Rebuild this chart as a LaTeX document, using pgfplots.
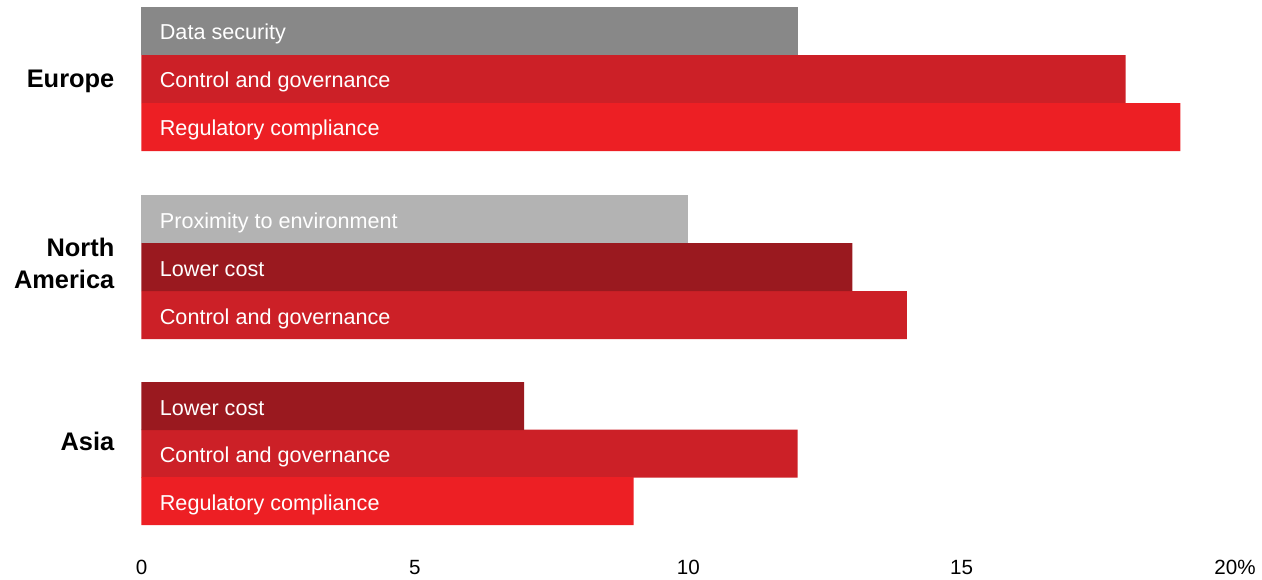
\documentclass[border=0pt]{standalone}
\usepackage{fontspec}
\setmainfont{Liberation Sans}
\usepackage{pgfplots}
\pgfplotsset{compat=1.18}
\definecolor{cgray}{RGB}{136,136,136}
\definecolor{cprox}{RGB}{179,179,179}
\definecolor{cctrl}{RGB}{204,32,39}
\definecolor{creg}{RGB}{237,31,36}
\definecolor{clow}{RGB}{154,25,31}
\pgfplotsset{hb/.style={xbar, bar width=48, bar shift=0pt, draw=none, fill=#1}}
\tikzset{lbl/.style={anchor=base west, inner sep=0pt, xshift=9pt, yshift=-4.4pt, text=white, font=\fontsize{10.8}{13}\selectfont}}
\begin{document}
\begin{tikzpicture}
\begin{axis}[
  scale only axis, width=546.75pt, height=289.5pt,
  xmin=0, xmax=20, ymin=0, ymax=579,
  axis line style={draw=none}, major tick length=0pt,
  xtick={0,5,10,15,20}, xticklabels={0,5,10,15,20\%},
  xticklabel style={font=\fontsize{10.3}{12}\selectfont, anchor=center, inner sep=0pt, yshift=6pt},
  ytick={138,315.5,498}, yticklabels={Asia,{North\\America},Europe},
  yticklabel style={font=\fontsize{12.7}{16}\selectfont\bfseries, align=right, anchor=east, inner sep=0pt, xshift=-13.4pt},
  /pgf/number format/assume math mode=true,
  clip=false,
]
\addplot[hb=cgray] coordinates {(12,548)};
\addplot[hb=cctrl] coordinates {(18,500) (14,264) (12,125.5)};
\addplot[hb=creg] coordinates {(19,452) (9,78)};
\addplot[hb=cprox] coordinates {(10,360)};
\addplot[hb=clow] coordinates {(13,312) (7,173)};
\node[lbl] at (axis cs:0,548) {Data security};
\node[lbl] at (axis cs:0,500) {Control and governance};
\node[lbl] at (axis cs:0,452) {Regulatory compliance};
\node[lbl] at (axis cs:0,360) {Proximity to environment};
\node[lbl] at (axis cs:0,312) {Lower cost};
\node[lbl] at (axis cs:0,264) {Control and governance};
\node[lbl] at (axis cs:0,173) {Lower cost};
\node[lbl] at (axis cs:0,125.5) {Control and governance};
\node[lbl] at (axis cs:0,78) {Regulatory compliance};
\end{axis}
\path ([xshift=-70.75pt]current axis.south west) rectangle ([xshift=13.5pt]current axis.north east);
\end{tikzpicture}
\end{document}
